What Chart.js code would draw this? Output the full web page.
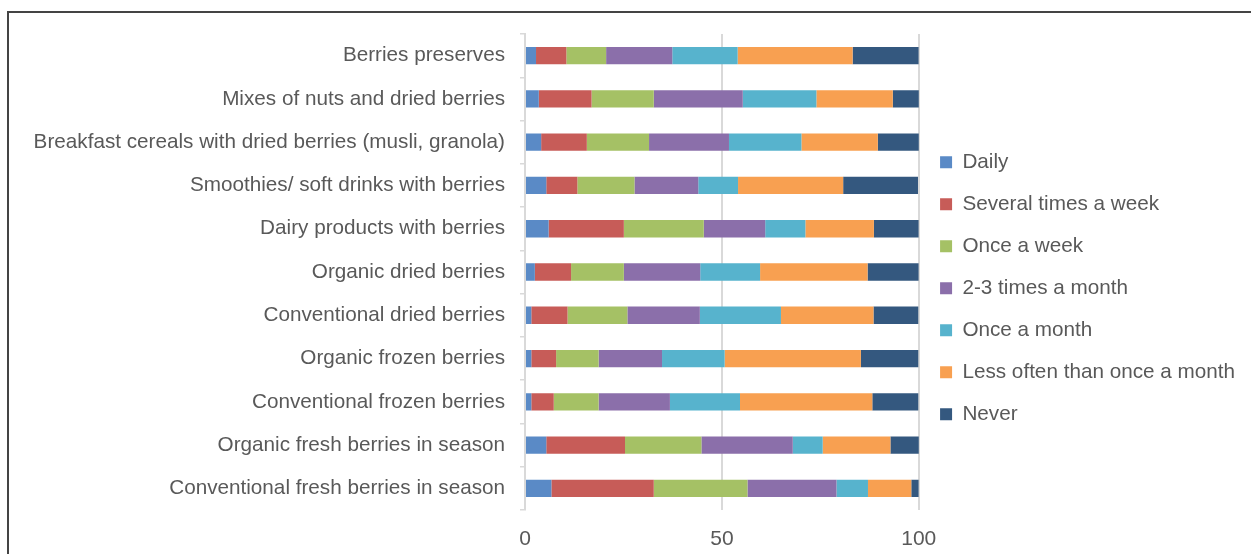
<!DOCTYPE html>
<html>
<head>
<meta charset="utf-8">
<script src="https://cdn.jsdelivr.net/npm/chart.js@4"></script>
<style>
    html, body { margin: 0; padding: 0; background: #fff; overflow: hidden; }
    #wrap { position: relative; width: 1251px; height: 554px; }
    #frame { position: absolute; left: 7px; top: 11px; width: 1300px; height: 600px; border: 2px solid #444; pointer-events: none; }
</style>
</head>
<body>
<div id="wrap">
    <canvas id="freqChart" width="1251" height="554"></canvas>
    <div id="frame"></div>
</div>
<script>
const categories = [
    'Berries preserves',
    'Mixes of nuts and dried berries',
    'Breakfast cereals with dried berries (musli, granola)',
    'Smoothies/ soft drinks with berries',
    'Dairy products with berries',
    'Organic dried berries',
    'Conventional dried berries',
    'Organic frozen berries',
    'Conventional frozen berries',
    'Organic fresh berries in season',
    'Conventional fresh berries in season'
];
const daily     = [2.8, 3.5, 4.1, 5.4, 6.0, 2.5, 1.6, 1.6, 1.6, 5.4, 6.7];
const several   = [7.7, 13.4, 11.6, 7.9, 19.1, 9.2, 9.2, 6.3, 5.7, 20.0, 26.0];
const onceWeek  = [10.1, 15.8, 15.8, 14.5, 20.3, 13.4, 15.2, 10.8, 11.4, 19.4, 23.8];
const twoThree  = [16.8, 22.6, 20.3, 16.2, 15.6, 19.4, 18.4, 16.1, 18.1, 23.2, 22.6];
const onceMonth = [16.6, 18.7, 18.4, 10.1, 10.2, 15.2, 20.6, 15.9, 17.8, 7.6, 8.0];
const lessOften = [29.2, 19.4, 19.4, 26.7, 17.4, 27.3, 23.5, 34.6, 33.6, 17.2, 11.0];
const never     = [16.8, 6.7, 10.5, 19.0, 11.4, 13.0, 11.4, 14.6, 11.7, 7.3, 1.9];
const xTicks = [0, 50, 100];

const textColor = '#595959';
const fontFamily = '"Liberation Sans", Arial, sans-serif';

function series(label, data, color) {
    return { label: label, data: data, backgroundColor: color, borderWidth: 0, barPercentage: 0.4, categoryPercentage: 1 };
}

document.addEventListener('DOMContentLoaded', function () {
    const ctx = document.getElementById('freqChart').getContext('2d');
    new Chart(ctx, {
        type: 'bar',
        data: {
            labels: categories,
            datasets: [
                series('Daily', daily, '#5A8AC6'),
                series('Several times a week', several, '#C75C58'),
                series('Once a week', onceWeek, '#A5C165'),
                series('2-3 times a month', twoThree, '#8B6FAA'),
                series('Once a month', onceMonth, '#57B3CD'),
                series('Less often than once a month', lessOften, '#F8A051'),
                series('Never', never, '#34587F')
            ]
        },
        options: {
            indexAxis: 'y',
            responsive: false,
            animation: false,
            layout: { padding: { top: 34, bottom: 1, left: 0, right: 6 } },
            plugins: {
                tooltip: { enabled: false },
                legend: {
                    position: 'right',
                    align: 'start',
                    maxWidth: 400,
                    // empty title only pushes the legend items down
                    title: { display: true, text: '', font: { size: 10 }, padding: { top: 84.7, bottom: 0 } },
                    labels: {
                        boxWidth: 12,
                        boxHeight: 12,
                        padding: 21.3,
                        color: textColor,
                        font: { family: fontFamily, size: 20.7 }
                    }
                }
            },
            scales: {
                x: {
                    stacked: true,
                    min: 0,
                    max: 100,
                    afterBuildTicks: function (scale) {
                        scale.ticks = xTicks.map(v => ({ value: v }));
                    },
                    afterFit: function (scale) { scale.height = 43; },
                    grid: { color: '#d9d9d9', lineWidth: 2, drawTicks: false },
                    border: { display: false },
                    ticks: { padding: 17, maxRotation: 0, color: textColor, font: { family: fontFamily, size: 21 } }
                },
                y: {
                    stacked: true,
                    afterFit: function (scale) { scale.width = 525; },
                    grid: { drawOnChartArea: false, drawTicks: true, tickLength: 5, color: '#d9d9d9', lineWidth: 1.5 },
                    border: { color: '#d9d9d9', width: 2 },
                    ticks: { padding: 15, autoSkip: false, color: textColor, font: { family: fontFamily, size: 20.7 } }
                }
            }
        }
    });
});
</script>
</body>
</html>
